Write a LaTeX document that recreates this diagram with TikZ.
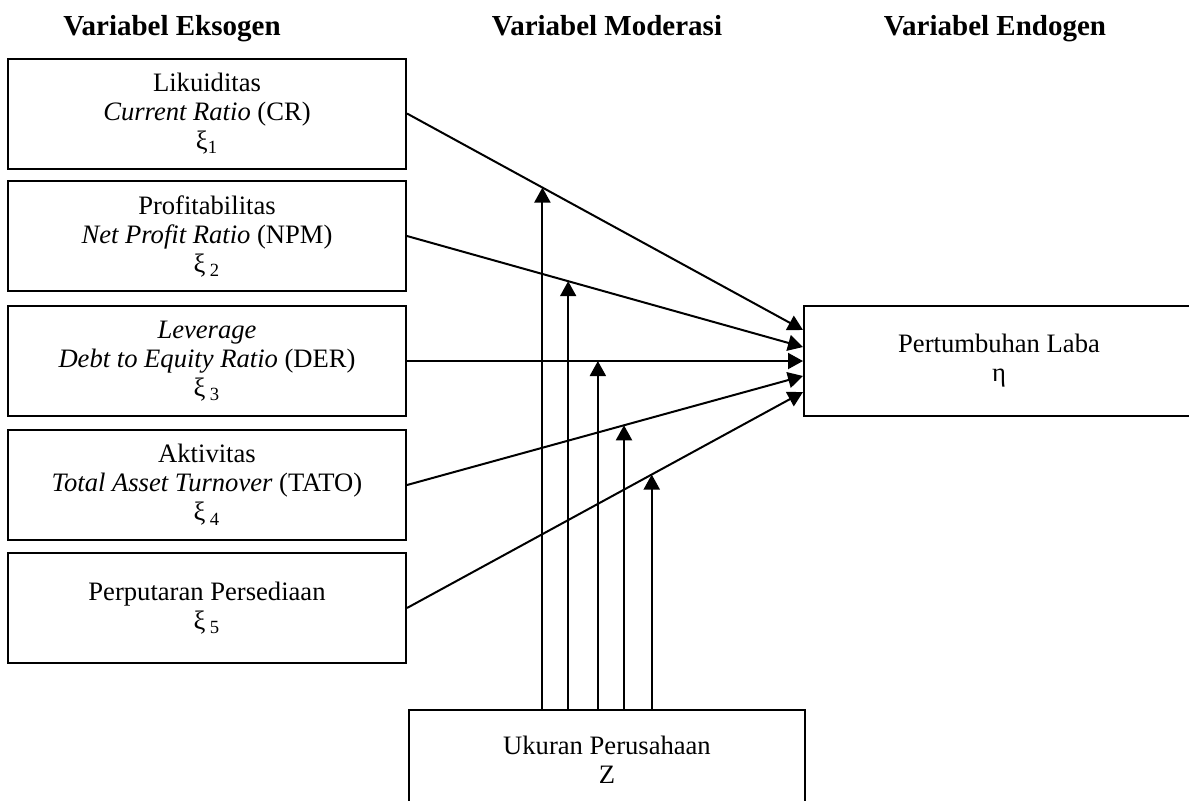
\documentclass[tikz,border=0pt]{standalone}
\usepackage{fontspec}
\setmainfont{Liberation Serif}
\usepackage{tikz}
\usetikzlibrary{arrows.meta, calc, positioning}

\tikzset{
    varbox/.style={draw, line width=1pt, align=center, minimum height=55pt,
        font=\fontsize{13.3}{14.5}\selectfont},
    headtext/.style={font=\fontsize{14.5}{16}\selectfont\bfseries, anchor=base},
    effect/.style={line width=1pt, -{Triangle[length=7.5pt,width=8pt]}}
}

\begin{document}
\begin{tikzpicture}[x=0.5pt, y=-0.5pt]
        \useasboundingbox (0,0) rectangle (1189,800);

        % Column headings
        \node[headtext] (hex) at (172,35) {Variabel Eksogen}; % exogenous heading
        \node[headtext] (hmo) at (607,35) {Variabel Moderasi}; % moderating heading
        \node[headtext] (hen) at (995,35) {Variabel Endogen}; % endogenous heading

        % Exogenous variables
        \node[varbox, minimum width=199pt] (cr) at (207,113.5) {Likuiditas\\\textit{Current Ratio} (CR)\\ξ\textsubscript{1}}; % CR box
        \node[varbox, minimum width=199pt] (npm) at (207,236) {Profitabilitas\\\textit{Net Profit Ratio} (NPM)\\ξ\,\textsubscript{2}}; % NPM box
        \node[varbox, minimum width=199pt] (der) at (207,361) {\textit{Leverage}\\\textit{Debt to Equity Ratio} (DER)\\ξ\,\textsubscript{3}}; % DER box
        \node[varbox, minimum width=199pt] (tato) at (207,485) {Aktivitas\\\textit{Total Asset Turnover} (TATO)\\ξ\,\textsubscript{4}}; % TATO box
        \node[varbox, minimum width=199pt] (ito) at (207,608) {Perputaran Persediaan\\ξ\,\textsubscript{5}}; % inventory box

        % Endogenous and moderating variables
        \node[varbox, minimum width=195pt] (laba) at (999,360.5) {Pertumbuhan Laba\\η}; % earnings growth box
        \node[varbox, minimum width=198pt, text depth=5pt] (size) at (607,765) {Ukuran Perusahaan\\Z}; % firm size box

        % Direct effects
        \draw[effect] (cr.east) -- coordinate[pos=0.342] (m1) ($(laba.west)+(0,-30.5)$); % CR to growth
        \draw[effect] (npm.east) -- coordinate[pos=0.407] (m2) ($(laba.west)+(0,-13.5)$); % NPM to growth
        \draw[effect] (der.east) -- coordinate[pos=0.482] (m3) (der.east -| laba.west); % DER to growth
        \draw[effect] (tato.east) -- coordinate[pos=0.548] (m4) ($(laba.west)+(0,15.5)$); % TATO to growth
        \draw[effect] (ito.east) -- coordinate[pos=0.618] (m5) ($(laba.west)+(0,31.5)$); % inventory to growth

        % Moderating effects
        \foreach \m in {m1,m2,m3,m4,m5}
            \draw[effect] (\m |- size.north) -- (\m);
\end{tikzpicture}
\end{document}
